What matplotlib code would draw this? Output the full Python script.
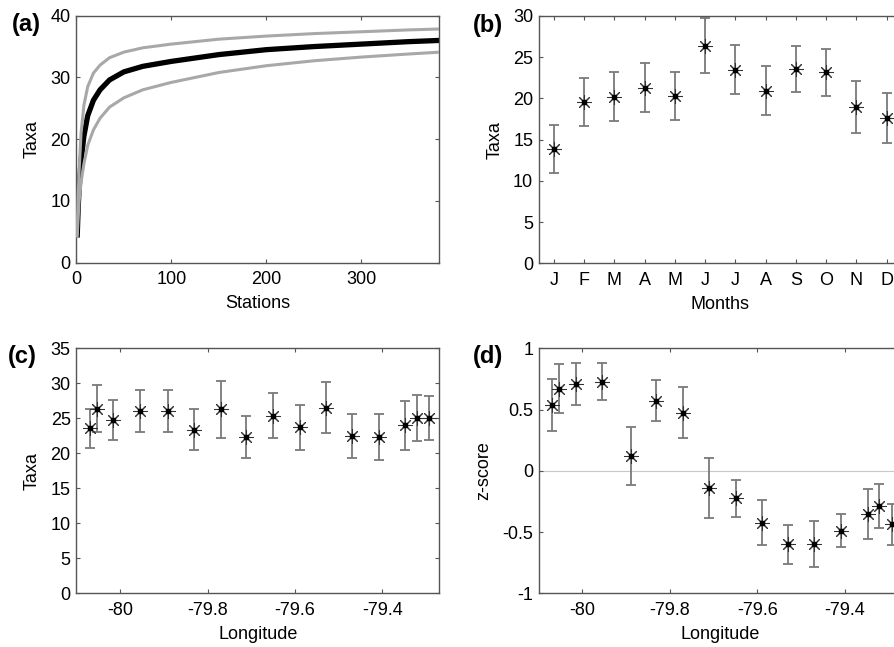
import matplotlib
matplotlib.use("Agg")
import matplotlib.pyplot as plt
import numpy as np

plt.rcParams['font.family'] = ['Liberation Sans', 'DejaVu Sans']
plt.rcParams['axes.unicode_minus'] = False
plt.rcParams['font.size'] = 13

# ---------------- data ----------------
# (a) rarefaction curve
stations = [1, 2, 3, 5, 8, 12, 18, 25, 35, 50, 70, 100, 150, 200, 250, 300, 350, 383]
taxa_mean = [4.5, 9.0, 12.0, 16.5, 20.5, 23.8, 26.3, 28.0, 29.6, 30.9, 31.8, 32.6,
             33.7, 34.5, 35.0, 35.4, 35.8, 36.0]
taxa_upper = [4.8, 11.0, 15.0, 21.0, 25.5, 28.5, 30.7, 32.0, 33.2, 34.1, 34.8, 35.4,
              36.2, 36.7, 37.1, 37.4, 37.7, 37.85]
taxa_lower = [4.3, 7.5, 10.0, 13.0, 16.0, 19.0, 21.5, 23.4, 25.2, 26.7, 28.0, 29.2,
              30.8, 31.9, 32.7, 33.3, 33.8, 34.1]

# (b) monthly taxa
months = ['J', 'F', 'M', 'A', 'M', 'J', 'J', 'A', 'S', 'O', 'N', 'D']
month_taxa = [13.9, 19.6, 20.2, 21.3, 20.3, 26.4, 23.5, 20.95, 23.6, 23.2, 19.0, 17.6]
month_err = [2.9, 2.9, 2.95, 2.95, 2.95, 3.3, 2.95, 2.95, 2.8, 2.85, 3.15, 3.0]

# (c) taxa by longitude
longitude = [-80.069, -80.053, -80.015, -79.955, -79.890, -79.831, -79.770, -79.711,
             -79.650, -79.589, -79.529, -79.470, -79.409, -79.348, -79.321, -79.293]
lon_taxa = [23.6, 26.4, 24.7, 26.0, 26.0, 23.4, 26.3, 22.4,
            25.4, 23.7, 26.5, 22.5, 22.3, 24.0, 25.0, 25.1]
lon_taxa_err = [2.8, 3.4, 2.85, 3.0, 3.0, 2.9, 4.05, 3.0,
                3.2, 3.2, 3.65, 3.1, 3.25, 3.5, 3.3, 3.15]

# (d) z-score by longitude
zscore = [0.537, 0.668, 0.709, 0.728, 0.121, 0.573, 0.475, -0.143,
          -0.224, -0.423, -0.600, -0.600, -0.488, -0.352, -0.287, -0.437]
zscore_err = [0.21, 0.20, 0.173, 0.153, 0.24, 0.17, 0.206, 0.244,
              0.151, 0.185, 0.158, 0.189, 0.132, 0.203, 0.181, 0.168]

# ---------------- figure ----------------
W, H = 894, 647
fig = plt.figure(figsize=(W / 100, H / 100), dpi=100)

def frac(l, t, r, b):
    return [l / W, 1 - b / H, (r - l) / W, (b - t) / H]

ax_a = fig.add_axes(frac(76.3, 15.7, 439.3, 262.7))
ax_b = fig.add_axes(frac(538.7, 16.0, 901.7, 263.3))
ax_c = fig.add_axes(frac(76.3, 348.3, 439.3, 593.3))
ax_d = fig.add_axes(frac(538.7, 348.3, 901.7, 593.3))

spine_col = '#555555'
for ax in (ax_a, ax_b, ax_c, ax_d):
    for s in ax.spines.values():
        s.set_color(spine_col)
        s.set_linewidth(1.0)
    ax.tick_params(direction='in', top=True, right=True, length=3,
                   color=spine_col, labelsize=13)
    ax.tick_params(axis='x', pad=6)
    ax.tick_params(axis='y', pad=4)

err_col = '#7a7a7a'
mk_col = '#333333'

def err_plot(ax, x, y, e):
    ax.errorbar(x, y, yerr=e, fmt='none', ecolor=err_col, elinewidth=1.3,
                capsize=3.5, capthick=1.3, zorder=2)
    ax.plot(x, y, linestyle='none', marker=(8, 2, 0), markersize=10.5,
            markeredgecolor=mk_col, markeredgewidth=0.75, zorder=3)
    ax.plot(x, y, linestyle='none', marker='s', markersize=2.2,
            color='black', zorder=4)

# (a)
ax_a.plot(stations, taxa_mean, color='black', linewidth=3.8, zorder=2)
ax_a.plot(stations, taxa_upper, color='#a8a8a8', linewidth=2.2, zorder=3)
ax_a.plot(stations, taxa_lower, color='#a8a8a8', linewidth=2.2, zorder=3)
ax_a.set_xlim(0, 382)
ax_a.set_ylim(0, 40)
ax_a.set_xticks([0, 100, 200, 300])
ax_a.set_yticks([0, 10, 20, 30, 40])
ax_a.set_xlabel('Stations', labelpad=5)
ax_a.set_ylabel('Taxa', labelpad=7)

# (b)
mx = np.arange(1, len(months) + 1)
err_plot(ax_b, mx, month_taxa, month_err)
ax_b.set_xlim(0.5, 12.5)
ax_b.set_ylim(0, 30)
ax_b.set_xticks(mx)
ax_b.set_xticklabels(months)
ax_b.set_yticks([0, 5, 10, 15, 20, 25, 30])
ax_b.set_xlabel('Months', labelpad=5)
ax_b.set_ylabel('Taxa', labelpad=7)

# (c)
err_plot(ax_c, longitude, lon_taxa, lon_taxa_err)
ax_c.set_xlim(-80.1, -79.27)
ax_c.set_ylim(0, 35)
ax_c.set_xticks([-80, -79.8, -79.6, -79.4])
ax_c.set_xticklabels(['-80', '-79.8', '-79.6', '-79.4'])
ax_c.set_yticks([0, 5, 10, 15, 20, 25, 30, 35])
ax_c.set_xlabel('Longitude', labelpad=5)
ax_c.set_ylabel('Taxa', labelpad=7)

# (d)
ax_d.axhline(0, color='#c8c8c8', linewidth=0.8, zorder=1)
err_plot(ax_d, longitude, zscore, zscore_err)
ax_d.set_xlim(-80.1, -79.27)
ax_d.set_ylim(-1, 1)
ax_d.set_xticks([-80, -79.8, -79.6, -79.4])
ax_d.set_xticklabels(['-80', '-79.8', '-79.6', '-79.4'])
ax_d.set_yticks([-1, -0.5, 0, 0.5, 1])
ax_d.set_yticklabels(['-1', '-0.5', '0', '0.5', '1'])
ax_d.set_xlabel('Longitude', labelpad=5)
ax_d.set_ylabel('z-score', labelpad=7)

# panel labels
for txt, x, y in [('(a)', 12, 31), ('(b)', 473, 32), ('(c)', 8, 363), ('(d)', 473, 363)]:
    fig.text(x / W, 1 - y / H, txt, fontsize=17, fontweight='bold',
             ha='left', va='baseline')

fig.savefig('out.png', dpi=100)
